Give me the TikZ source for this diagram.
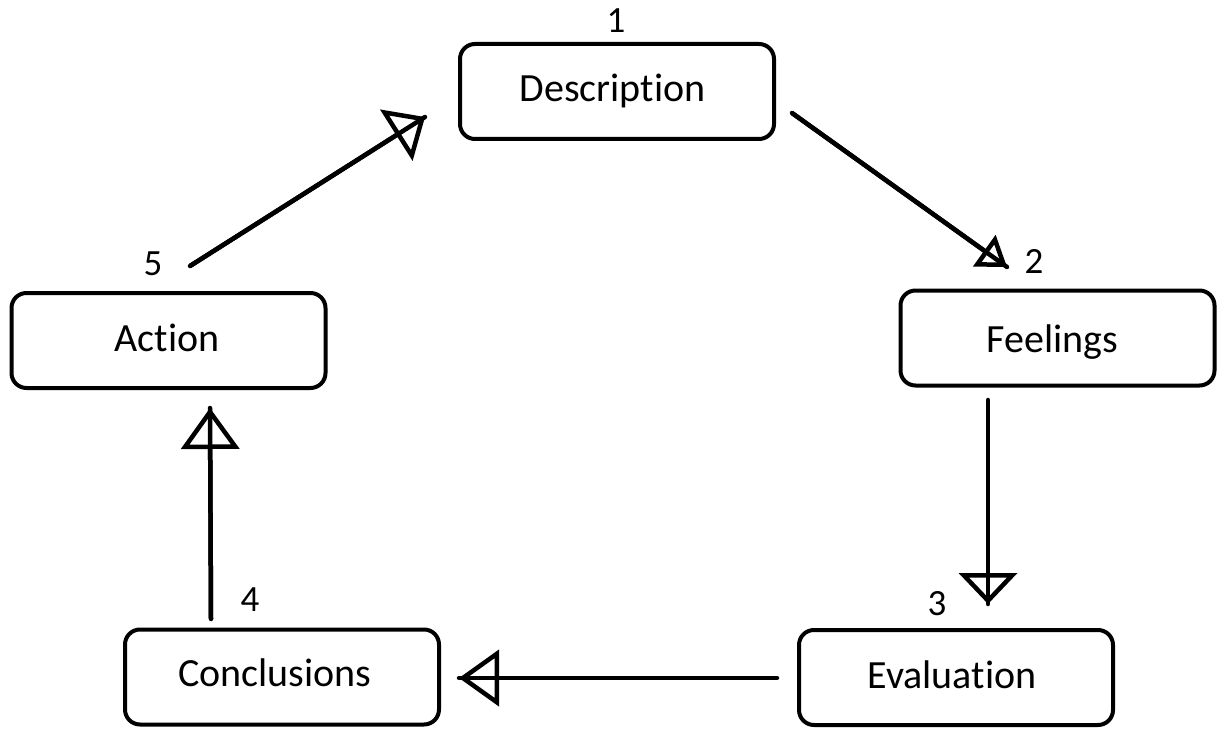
\documentclass[tikz,border=0pt]{standalone}
\usepackage{fontspec}
\setmainfont{Carlito}[Ligatures={NoCommon,NoRequired,NoContextual}]
\usetikzlibrary{arrows.meta}
\begin{document}
\begin{tikzpicture}[x=1pt,y=-1pt,
  stagebox/.style={draw=black,line width=4pt,rounded corners=15pt,minimum width=314pt,minimum height=95pt,inner sep=0pt},
  stagetext/.style={anchor=base,inner sep=0pt,font=\fontsize{40}{48}\selectfont},
  numlabel/.style={inner sep=0pt,font=\fontsize{37}{44}\selectfont},
  shaft/.style={draw=black,line width=4.5pt,line cap=round},
  head/.style={draw=black,line width=4.5pt},
]
\useasboundingbox (0,0) rectangle (1231,754);
% boxes
\node[stagebox] (desc) at (617,91.5) {};
\node[stagebox] (feel) at (1057.5,338) {};
\node[stagebox] (eval) at (956,677.5) {};
\node[stagebox] (conc) at (282,677) {};
\node[stagebox] (act) at (168.5,340.5) {};
% box texts
\node[stagetext] (desct) at (612.5,102) {Descrip{}tion};
\node[stagetext] (feelt) at (1052.5,352) {Feelings};
\node[stagetext] (evalt) at (952,688) {Evaluation};
\node[stagetext] (conct) at (275,686) {Conclusions};
\node[stagetext] (actt) at (167,351) {Ac{}tion};
% numbers
\node[numlabel] (n1) at (616,21) {1};
\node[numlabel] (n2) at (1034,261.5) {2};
\node[numlabel] (n3) at (937,604) {3};
\node[numlabel] (n4) at (250,600) {4};
\node[numlabel] (n5) at (153,263.5) {5};
% connector end points
\coordinate (a1s) at (792,113);  \coordinate (a1e) at (1007,267);
\coordinate (a2s) at (988,400);  \coordinate (a2e) at (988,604);
\coordinate (a3s) at (777,678);  \coordinate (a3e) at (459,678);
\coordinate (a4s) at (211,619);  \coordinate (a4e) at (210,408);
\coordinate (a5s) at (190,266);  \coordinate (a5e) at (425,117);
% shafts
\draw[shaft] (a1s) -- (a1e);
\draw[shaft] (a2s) -- (a2e);
\draw[shaft] (a3s) -- (a3e);
\draw[shaft] (a4s) -- (a4e);
\draw[shaft] (a5s) -- (a5e);
% heads
\draw[head,-{Triangle[open,length=28pt,width=38pt]}] (a1s) -- (a1e);
\draw[head,-{Triangle[open,length=31pt,width=58pt]}] (a2s) -- (a2e);
\draw[head,-{Triangle[open,length=40pt,width=56pt]}] (a3s) -- (a3e);
\draw[head,-{Triangle[open,length=41pt,width=58pt]}] (a4s) -- (a4e);
\draw[head,-{Triangle[open,length=34pt,width=60pt]}] (a5s) -- (a5e);
\end{tikzpicture}
\end{document}
